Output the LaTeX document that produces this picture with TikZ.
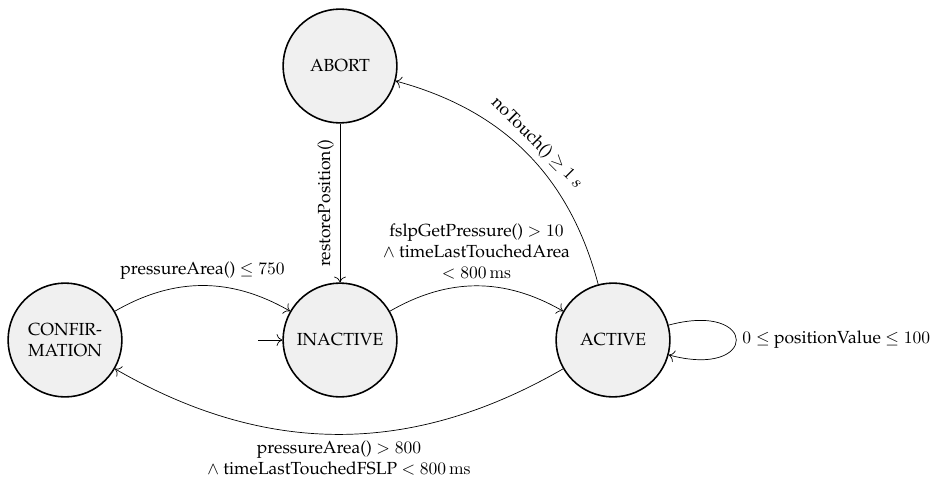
\documentclass[tikz,border=0pt]{standalone}
\usepackage[T1]{fontenc}
\usepackage{palatino}
\usetikzlibrary{arrows.meta}

\begin{document}
\begin{tikzpicture}[x=0.5711pt, y=0.5711pt,
  stnode/.style={circle, draw, line width=0.9pt, fill=gray!12, minimum size=65pt,
                 inner sep=1pt, align=center},
  trans/.style={-{To[scale=1.3]}, thin},
  lbl/.style={align=center}
]
\useasboundingbox (0,0) rectangle (931,480);

% states
\node[stnode] (abort)    at (340,414) {ABORT};
\node[stnode] (confirm)  at (65,140)  {CONFIR-\\MATION};
\node[stnode] (inactive) at (340,140) {INACTIVE};
\node[stnode] (active)   at (613,140) {ACTIVE};

% initial marker
\coordinate (init) at (258,140);
\draw[trans] (init) -- (inactive);

% transitions
\draw[trans] (confirm) to[bend left=30]
  node[lbl, above] {pressureArea() $\leq 750$} (inactive);
\draw[trans] (abort) --
  node[lbl, rotate=90, anchor=south] {restorePosition()} (inactive);
\draw[trans] (inactive) to[bend left=30]
  node[lbl, above] {fslpGetPressure() $> 10$\\ $\wedge$ timeLastTouchedArea\\ $< 800\,\mathrm{ms}$} (active);
\draw[trans] (active) to[bend right=30]
  node[lbl, sloped, above] {noTouch() $\geq 1\,s$} (abort);
\draw[trans] (active) to[loop right]
  node[lbl, right] {$0 \leq$ positionValue $\leq 100$} ();
\draw[trans] (active) to[bend left=30]
  node[lbl, below] {pressureArea() $> 800$\\ $\wedge$ timeLastTouchedFSLP $< 800\,\mathrm{ms}$} (confirm);
\end{tikzpicture}
\end{document}
